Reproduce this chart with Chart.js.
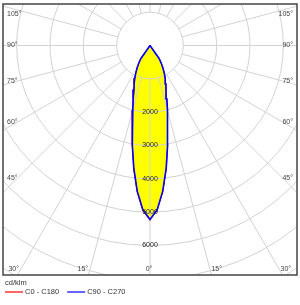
<!DOCTYPE html>
<html>
<head>
<meta charset="utf-8">
<script src="https://cdn.jsdelivr.net/npm/chart.js@4.4.1/dist/chart.umd.min.js"></script>
<style>
  html, body { margin: 0; padding: 0; background: #fff; }
  #wrap { width: 300px; height: 305px; }
</style>
</head>
<body>
<div id="wrap"><canvas id="chart" width="300" height="305"></canvas></div>
<script>
// gamma angle from nadir (deg) and intensity in cd/klm per C-plane
const gammaAngles = [0, 2.5, 5, 7.5, 10, 12.5, 15, 17.5, 20, 22.5, 25, 27.5, 30, 32.5, 35, 40, 50, 60, 70, 80, 90];
const c0   = [5245, 4950, 4405, 3735, 3045, 2460, 2000, 1680, 1405, 1245, 1080, 920, 770, 625, 475, 0, 0, 0, 0, 0, 0];
const c180 = [5245, 4960, 4420, 3745, 3050, 2460, 2000, 1680, 1405, 1245, 1080, 920, 770, 625, 475, 0, 0, 0, 0, 0, 0];
const c90  = [5220, 4930, 4385, 3720, 3040, 2460, 2000, 1680, 1405, 1245, 1080, 920, 770, 625, 475, 0, 0, 0, 0, 0, 0];
const c270 = [5220, 4930, 4385, 3720, 3040, 2460, 2000, 1680, 1405, 1245, 1080, 920, 770, 625, 475, 0, 0, 0, 0, 0, 0];

const seriesNames = ["C0 - C180", "C90 - C270"];
const seriesColors = ["#ff0000", "#0000ff"];
const unitLabel = "cd/klm";

const ringValues = [1000, 2000, 3000, 4000, 5000, 6000, 7000, 8000, 9000];
const ringLabels = [2000, 3000, 4000, 5000, 6000];
const angleLabels = [0, 15, 30, 45, 60, 75, 90, 105];
const spokeStep = 15;

const FONT = '7px "Liberation Sans", Arial, sans-serif';

// left half uses the second plane, right half the first one
function curve(rightVals, leftVals) {
    const pts = [];
    for (let i = gammaAngles.length - 1; i >= 0; i--) {
        const g = gammaAngles[i] * Math.PI / 180;
        pts.push({ x: -leftVals[i] * Math.sin(g), y: -leftVals[i] * Math.cos(g) });
    }
    for (let i = 1; i < gammaAngles.length; i++) {
        const g = gammaAngles[i] * Math.PI / 180;
        pts.push({ x: rightVals[i] * Math.sin(g), y: -rightVals[i] * Math.cos(g) });
    }
    return pts;
}

const polarGrid = {
    id: "polarGrid",
    beforeDraw(chart) {
        const ctx = chart.ctx;
        ctx.save();
        ctx.fillStyle = "#fff";
        ctx.fillRect(0, 0, chart.width, chart.height);
        ctx.restore();
    },
    beforeDatasetsDraw(chart) {
        const { ctx, chartArea: a } = chart;
        const xs = chart.scales.x, ys = chart.scales.y;
        const cx = xs.getPixelForValue(0), cy = ys.getPixelForValue(0);
        const px = v => xs.getPixelForValue(v) - cx;
        ctx.save();
        ctx.beginPath();
        ctx.rect(a.left, a.top, a.right - a.left, a.bottom - a.top);
        ctx.clip();
        ctx.strokeStyle = "#d3d3d3";
        ctx.lineWidth = 1;
        ringValues.forEach(v => {
            ctx.beginPath();
            ctx.arc(cx, cy, px(v), 0, Math.PI * 2);
            ctx.stroke();
        });
        const r0 = px(ringValues[0]), r1 = px(ringValues[ringValues.length - 1] * 1.2);
        for (let deg = 0; deg < 360; deg += spokeStep) {
            const t = deg * Math.PI / 180;
            const dx = Math.sin(t), dy = Math.cos(t);
            ctx.beginPath();
            ctx.moveTo(cx + dx * r0, cy + dy * r0);
            ctx.lineTo(cx + dx * r1, cy + dy * r1);
            ctx.stroke();
        }
        ctx.restore();
    },
    afterDatasetsDraw(chart) {
        const { ctx, chartArea: a } = chart;
        const xs = chart.scales.x, ys = chart.scales.y;
        const cx = xs.getPixelForValue(0), cy = ys.getPixelForValue(0);
        ctx.save();
        ctx.font = FONT;
        ctx.textBaseline = "middle";

        // intensity labels along the 0 degree axis
        ctx.fillStyle = "#222";
        ctx.textAlign = "center";
        ringLabels.forEach(v => {
            ctx.fillText(String(v), cx, ys.getPixelForValue(-v));
        });

        // angle labels at the frame
        ctx.fillStyle = "#444";
        const by = a.bottom - 6;
        angleLabels.forEach(deg => {
            const t = deg * Math.PI / 180;
            const txt = deg + "\u00b0";
            if (deg === 0) {
                ctx.textAlign = "center";
                ctx.fillText(txt, cx - 1, by);
                return;
            }
            [-1, 1].forEach(side => {
                const dx = Math.sin(t) * side, dy = Math.cos(t);
                if (dy > 0) {
                    const bx = cx + dx * (by - cy) / dy;
                    if (bx >= a.left + 14 && bx <= a.right - 14) {
                        ctx.textAlign = side < 0 ? "right" : "left";
                        ctx.fillText(txt, side < 0 ? bx - 2 : bx + 1.5, by);
                        return;
                    }
                }
                const sx = side < 0 ? a.left + 14.5 : a.right - 14.5;
                let y = cy + dy * (sx - cx) / dx;
                y = Math.max(y, a.top + 10);
                ctx.textAlign = side < 0 ? "left" : "right";
                ctx.fillText(txt, side < 0 ? a.left + 4 : a.right - 4, y);
            });
        });

        // frame
        ctx.strokeStyle = "#444";
        ctx.lineWidth = 1.5;
        ctx.strokeRect(a.left, a.top, a.right - a.left, a.bottom - a.top);

        // legend
        ctx.textAlign = "left";
        ctx.fillStyle = "#333";
        ctx.font = '7.5px "Liberation Sans", Arial, sans-serif';
        ctx.fillText(unitLabel, 5, a.bottom + 8);
        let lx = 5;
        const ly = a.bottom + 17;
        chart.data.datasets.forEach(ds => {
            ctx.strokeStyle = ds.borderColor;
            ctx.lineWidth = 1.2;
            ctx.beginPath();
            ctx.moveTo(lx, ly);
            ctx.lineTo(lx + 18, ly);
            ctx.stroke();
            ctx.fillStyle = "#333";
            ctx.fillText(ds.label, lx + 20, ly);
            lx += 20 + ctx.measureText(ds.label).width + 8;
        });
        ctx.restore();
    }
};

new Chart(document.getElementById("chart"), {
    type: "scatter",
    data: {
        datasets: [
            {
                label: seriesNames[0],
                data: curve(c0, c180),
                borderColor: seriesColors[0],
                backgroundColor: "#ffff00",
                borderWidth: 1,
                fill: "shape",
                order: 1
            },
            {
                label: seriesNames[1],
                data: curve(c90, c270),
                borderColor: seriesColors[1],
                backgroundColor: "#ffff00",
                borderWidth: 1.6,
                fill: "shape",
                order: 0
            }
        ].map(ds => Object.assign(ds, { showLine: true, pointRadius: 0, tension: 0 }))
    },
    options: {
        responsive: false,
        devicePixelRatio: 1,
        animation: false,
        layout: { padding: { left: 3, right: 3, top: 4, bottom: 30 } },
        scales: {
            x: { type: "linear", display: false, min: -4410, max: 4410 },
            y: { type: "linear", display: false, min: -6885, max: 1245 }
        },
        plugins: {
            legend: { display: false },
            tooltip: { enabled: false },
            filler: { drawTime: "beforeDatasetsDraw" }
        }
    },
    plugins: [polarGrid]
});
</script>
</body>
</html>
